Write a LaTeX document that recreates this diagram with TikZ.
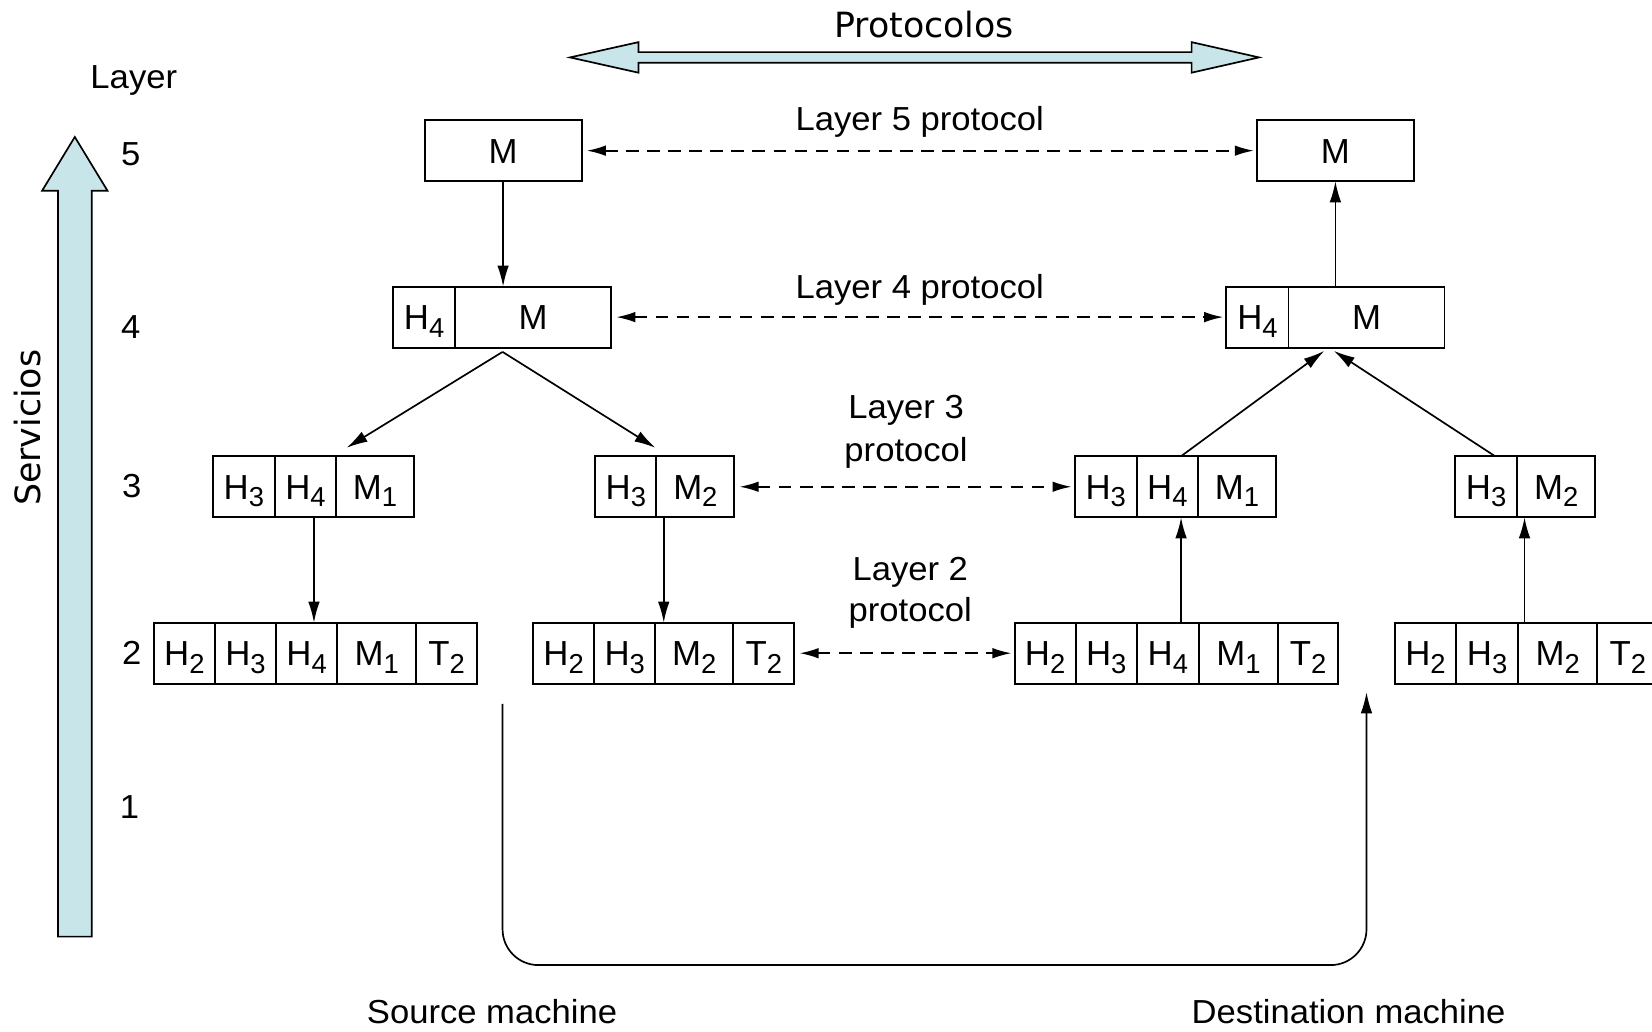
\documentclass[tikz,border=0pt]{standalone}
\usepackage{fontspec}
\setmainfont{Liberation Sans}[FakeStretch=1.04]
\newfontfamily\boxfont{Liberation Sans}
\newfontfamily\handfont{DejaVu Sans}
\usetikzlibrary{arrows.meta,calc}
\definecolor{pale}{RGB}{200,229,233}
% lowered, slightly smaller index digit
\newcommand\sbx[1]{\raisebox{-3.6pt}{\fontsize{13}{13}\selectfont #1}}

\begin{document}
\begin{tikzpicture}[x=0.5pt,y=-0.5pt,
  every node/.style={font=\fontsize{15.8}{17}\selectfont, inner sep=0pt, outer sep=0pt},
  cell/.style={draw, line width=0.9pt, minimum height=29pt, text height=11.8pt, text depth=0pt,
    anchor=west, font=\boxfont\fontsize{16.5}{18}\selectfont},
  arr/.style={line width=0.8pt, -{Latex[length=10pt,width=5.5pt]}},
  darr/.style={line width=0.8pt, dash pattern=on 6pt off 4pt,
    {Latex[length=9pt,width=5pt]}-{Latex[length=9pt,width=5pt]},
    shorten <=2.5pt, shorten >=1.5pt},
  lbl/.style={anchor=base},
  hand/.style={anchor=base, font=\handfont\fontsize{16.5}{18}\selectfont},
  bigarrow/.style={draw, line width=0.8pt, fill=pale, line join=miter}
]
\clip (0,0) rectangle (1568,979);

% ---- wide arrows: protocols (horizontal) and services (vertical)
\draw[bigarrow] (541,54.5) -- (606,40) -- (606,49.5) -- (1131,49.5) -- (1131,40)
  -- (1195,54.5) -- (1131,69) -- (1131,59.5) -- (606,59.5) -- (606,69) -- cycle;
\draw[bigarrow] (71,130) -- (102,181) -- (87,181) -- (87,889) -- (55,889)
  -- (55,181) -- (40,181) -- cycle;
\node[hand] (protocolos) at (877,36) {Protocolos};
\node[hand, rotate=90] (servicios) at (38,406) {Servicios};

% ---- layer numbers
\node[lbl] (layerhdr) at (127,84) {Layer};
\node[lbl] (num5) at (124,157) {5};
\node[lbl] (num4) at (124,321) {4};
\node[lbl] (num3) at (125,472) {3};
\node[lbl] (num2) at (125,631) {2};
\node[lbl] (num1) at (123,777) {1};

% ---- layer 5
\node[cell, minimum width=74.5pt] (a5) at (403,143) {M};
\node[cell, minimum width=74.5pt] (b5) at (1193,143) {M};

% ---- layer 4
\node[cell, minimum width=29.5pt] (a4h) at (373,301) {H\sbx{4}};
\node[cell, minimum width=74pt] (a4m) at (a4h.east) {M};
\node[cell, minimum width=29.5pt] (b4h) at (1164,301) {H\sbx{4}};
\node[cell, minimum width=74pt] (b4m) at (b4h.east) {M};

% ---- layer 3
\node[cell, minimum width=29.5pt] (a3h3) at (202,462) {H\sbx{3}};
\node[cell, minimum width=29pt] (a3h4) at (a3h3.east) {H\sbx{4}};
\node[cell, minimum width=37pt] (a3m) at (a3h4.east) {M\sbx{1}};

\node[cell, minimum width=29pt] (c3h3) at (565,462) {H\sbx{3}};
\node[cell, minimum width=37pt] (c3m) at (c3h3.east) {M\sbx{2}};

\node[cell, minimum width=29.5pt] (b3h3) at (1020,462) {H\sbx{3}};
\node[cell, minimum width=29pt] (b3h4) at (b3h3.east) {H\sbx{4}};
\node[cell, minimum width=37pt] (b3m) at (b3h4.east) {M\sbx{1}};

\node[cell, minimum width=29.5pt] (d3h3) at (1381,462) {H\sbx{3}};
\node[cell, minimum width=37pt] (d3m) at (d3h3.east) {M\sbx{2}};

% ---- layer 2
\node[cell, minimum width=29pt] (a2h2) at (146,620) {H\sbx{2}};
\node[cell, minimum width=29pt] (a2h3) at (a2h2.east) {H\sbx{3}};
\node[cell, minimum width=29pt] (a2h4) at (a2h3.east) {H\sbx{4}};
\node[cell, minimum width=37.5pt] (a2m) at (a2h4.east) {M\sbx{1}};
\node[cell, minimum width=29pt] (a2t) at (a2m.east) {T\sbx{2}};

\node[cell, minimum width=29pt] (c2h2) at (506,620) {H\sbx{2}};
\node[cell, minimum width=29pt] (c2h3) at (c2h2.east) {H\sbx{3}};
\node[cell, minimum width=37pt] (c2m) at (c2h3.east) {M\sbx{2}};
\node[cell, minimum width=29pt] (c2t) at (c2m.east) {T\sbx{2}};

\node[cell, minimum width=29pt] (b2h2) at (963,620) {H\sbx{2}};
\node[cell, minimum width=29pt] (b2h3) at (b2h2.east) {H\sbx{3}};
\node[cell, minimum width=29.5pt] (b2h4) at (b2h3.east) {H\sbx{4}};
\node[cell, minimum width=37.5pt] (b2m) at (b2h4.east) {M\sbx{1}};
\node[cell, minimum width=28.5pt] (b2t) at (b2m.east) {T\sbx{2}};

\node[cell, minimum width=29pt] (d2h2) at (1324,620) {H\sbx{2}};
\node[cell, minimum width=29.5pt] (d2h3) at (d2h2.east) {H\sbx{3}};
\node[cell, minimum width=37.5pt] (d2m) at (d2h3.east) {M\sbx{2}};
\node[cell, minimum width=29pt] (d2t) at (d2m.east) {T\sbx{2}};

% ---- peer protocol labels
\node[lbl] (p5) at (873,124) {Layer 5 protocol};
\node[lbl] (p4) at (873,283) {Layer 4 protocol};
\node[lbl] (p3a) at (860,397) {Layer 3};
\node[lbl] (p3b) at (860,438) {protocol};
\node[lbl] (p2a) at (864,551) {Layer 2};
\node[lbl] (p2b) at (864,590) {protocol};

% ---- machine labels
\node[lbl] (src) at (467,971) {Source machine};
\node[lbl] (dst) at (1280,971) {Destination machine};

% ---- peer (virtual) communication
\draw[darr] (a5.east) -- (b5.west);
\draw[darr] (a4m.east) -- (b4h.west);
\draw[darr] (c3m.east) -- (b3h3.west);
\draw[darr] (c2t.east) -- (b2h2.west);

% ---- actual flow down the source stack
\coordinate (colA) at (298,0);
\coordinate (colB) at (630,0);
\coordinate (colC) at (1121,0);
\coordinate (colD) at (1447,0);
\draw[arr] (a5.south) -- (a5.south |- a4m.north);
\coordinate (fanL) at (477,334);
\coordinate (tipL1) at (329,425);
\coordinate (tipL2) at (622,425);
\draw[arr] (fanL) -- (tipL1);
\draw[arr] (fanL) -- (tipL2);
\draw[arr] (a3h4.south -| colA) -- (a2h4.north -| colA);
\draw[arr] (c3m.south -| colB) -- (c2m.north -| colB);

% ---- and up the destination stack
\draw[arr] (b2h4.north -| colC) -- (b3h4.south -| colC);
\draw[arr] (d2m.north -| colD) -- (d3m.south -| colD);
\coordinate (fanR1) at (1121,433);
\coordinate (fanR2) at (1419,433);
\coordinate (tipR1) at (1257,333);
\coordinate (tipR2) at (1266,333);
\draw[arr] (fanR1) -- (tipR1);
\draw[arr] (fanR2) -- (tipR2);
\draw[arr] (b4m.north -| b5.south) -- (b5.south);

% ---- physical medium
\coordinate (wireA) at (477,668);
\coordinate (wireB) at (477,916);
\coordinate (wireC) at (1297,916);
\coordinate (wireD) at (1297,657);
\draw[arr, rounded corners=17pt] (wireA) -- (wireB) -- (wireC) -- (wireD);
\end{tikzpicture}
\end{document}
